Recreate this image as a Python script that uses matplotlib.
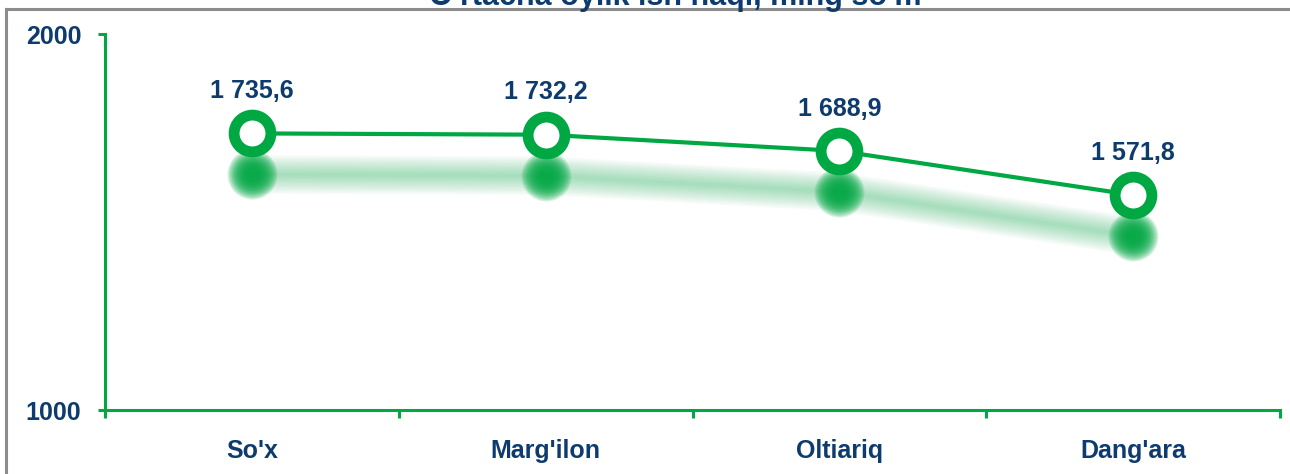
import matplotlib
matplotlib.use('Agg')
import matplotlib.pyplot as plt
import matplotlib.transforms as mtransforms
from matplotlib.lines import Line2D

# data
regions = ["So'x", "Marg'ilon", "Oltiariq", "Dang'ara"]
wages = [1735.6, 1732.2, 1688.9, 1571.8]
value_labels = ['1 735,6', '1 732,2', '1 688,9', '1 571,8']
y_ticks = [1000, 2000]
title = "O'rtacha oylik ish haqi, ming so'm"

GREEN = '#00A843'
NAVY = '#0D3B6E'
FRAME = '#8C8C8C'

plt.rcParams['font.family'] = ['Liberation Sans', 'DejaVu Sans']
plt.rcParams['font.weight'] = 'bold'

fig = plt.figure(figsize=(12.9, 4.74), dpi=100)
fig.patch.set_facecolor('white')

# outer frame (only top and left edges are visible)
fig.add_artist(Line2D([6 / 1290, 6 / 1290], [-0.1, 1 - 9 / 474],
                      transform=fig.transFigure, color=FRAME, lw=2.2))
fig.add_artist(Line2D([6 / 1290, 1.1], [1 - 9 / 474, 1 - 9 / 474],
                      transform=fig.transFigure, color=FRAME, lw=2.2))

ax = fig.add_axes([105 / 1290, 1 - 410 / 474, (1280 - 105) / 1290, (410 - 34) / 474])
ax.set_facecolor('none')

x = list(range(len(regions)))

# blurred shadow, shifted down
shadow = mtransforms.offset_copy(ax.transData, fig=fig, x=0, y=-41, units='dots')
for lw in range(2, 30, 2):
    ax.plot(x, wages, color=GREEN, lw=lw, alpha=0.028, solid_capstyle='round',
            transform=shadow, zorder=1)
for ms in range(10, 38, 2):
    ax.plot(x, wages, ls='none', marker='o', ms=ms, mew=0, color=GREEN,
            alpha=0.17, transform=shadow, zorder=1)

# main line
ax.plot(x, wages, color=GREEN, lw=3, zorder=3)
ax.plot(x, wages, ls='none', marker='o', ms=26.5, mew=7.8, mec=GREEN, mfc='white', zorder=4)

for xi, yi, lab in zip(x, wages, value_labels):
    ax.annotate(lab, (xi, yi), xytext=(0, 25.5), textcoords='offset points',
                ha='center', va='baseline', fontsize=18, fontweight='bold', color=NAVY)

ax.set_xlim(-0.5, len(regions) - 0.5)
ax.set_ylim(1000, 2000)

ax.set_xticks([i - 0.5 for i in range(len(regions) + 1)])
ax.set_xticklabels([])
ax.set_xticks(x, minor=True)
ax.set_xticklabels(regions, minor=True)
ax.tick_params(axis='x', which='major', direction='out', length=6, width=2.2, color=GREEN)
ax.tick_params(axis='x', which='minor', length=0, pad=21, labelsize=18, labelcolor=NAVY)

ax.set_yticks(y_ticks)
ax.set_yticklabels([str(v) for v in y_ticks])
ax.tick_params(axis='y', direction='out', length=5, width=2.2, color=GREEN, pad=12,
               labelsize=18, labelcolor=NAVY)

for side in ['top', 'right']:
    ax.spines[side].set_visible(False)
for side in ['left', 'bottom']:
    ax.spines[side].set_color(GREEN)
    ax.spines[side].set_linewidth(2.2)

# title sits on the frame edge and is clipped at the top, as in the source
fig.text(675 / 1290, 1 - 5 / 474, title, ha='center', va='baseline',
         fontsize=22, fontweight='bold', color=NAVY)

fig.savefig('out.png', dpi=100, facecolor='white')
